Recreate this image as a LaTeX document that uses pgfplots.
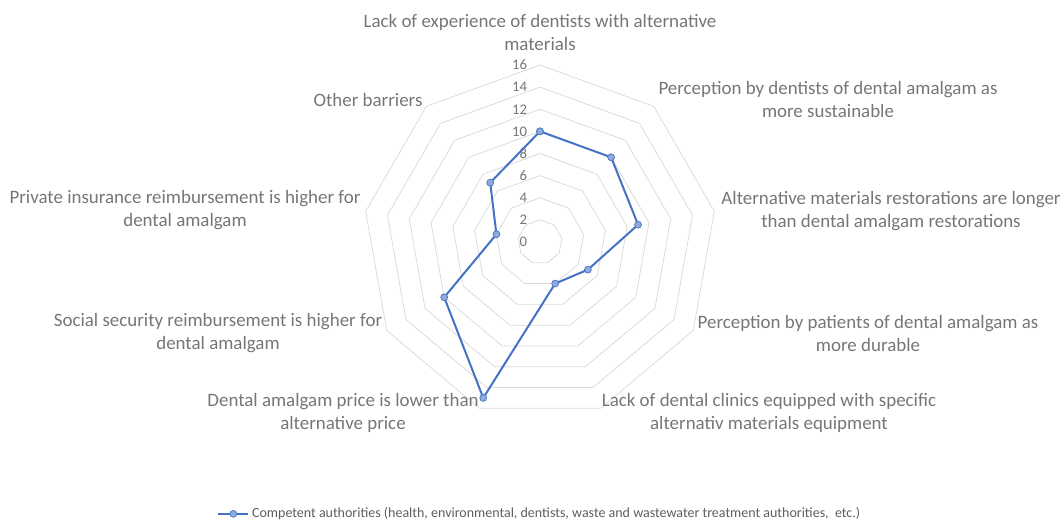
\documentclass[border=0pt]{standalone}
\usepackage{pgfplots}
\pgfplotsset{compat=1.18}
\usepackage{fontspec}
\setmainfont{Carlito}
\definecolor{gridc}{RGB}{217,217,217}
\definecolor{labc}{RGB}{118,118,118}
\definecolor{serc}{RGB}{68,114,196}
\definecolor{serf}{RGB}{143,170,220}
\begin{document}
\begin{tikzpicture}
\path[use as bounding box] (0pt,0pt) rectangle (795.75pt,390.75pt);
\begin{axis}[
  at={(405pt,209.25pt)}, anchor=center,
  scale only axis, width=265.5pt, height=265.5pt,
  xmin=-16, xmax=16, ymin=-16, ymax=16,
  hide axis, clip=false,
  legend style={at={(0.5,-0.268)}, anchor=center, draw=none, fill=none,
    font=\fontsize{10.5}{12}\selectfont, text=labc!80!black},
  legend image code/.code={\draw[mark repeat=2,mark phase=2,#1] plot coordinates {(0cm,0cm) (0.4cm,0cm) (0.8cm,0cm)};},
]
\pgfplotsinvokeforeach{2,4,6,8,10,12,14,16}{
  \addplot[gridc, line width=0.55pt, data cs=polar, forget plot] coordinates {
    (90,#1) (50,#1) (10,#1) (-30,#1) (-70,#1) (-110,#1) (-150,#1) (170,#1) (130,#1) (90,#1)};
  \node[anchor=east, text=labc, font=\fontsize{11}{13}\selectfont, inner sep=0pt] at (axis cs:-1.15,#1) {#1};
}
\node[anchor=east, text=labc, font=\fontsize{11}{13}\selectfont, inner sep=0pt] at (axis cs:-1.15,0) {0};
\addplot[serc, line width=1.5pt, data cs=polar, mark=*, mark size=2.6pt,
  mark options={fill=serf, draw=serc, line width=0.5pt}] coordinates {
  (90,10) (50,10) (10,9) (-30,5) (-70,4) (-110,15) (-150,10) (170,4) (130,7) (90,10)};
\addlegendentry{Competent authorities (health, environmental, dentists, waste and wastewater treatment authorities,\ \ etc.)}
\end{axis}
\begin{scope}[x=0.75pt,y=0.75pt,every node/.style={align=center, text=labc, font=\fontsize{14.2}{17.25}\selectfont, inner sep=0pt}]
\node at (540,488) {Lack of experience of dentists with alternative\\materials};
\node at (828,421) {Perception by dentists of dental amalgam as\\more sustainable};
\node at (891,310) {Alternative materials restorations are longer\\than dental amalgam restorations};
\node at (868,188) {Perception by patients of dental amalgam as\\more durable};
\node at (769,108) {Lack of dental clinics equipped with specific\\alternativ materials equipment};
\node at (343,108) {Dental amalgam price is lower than\\alternative price};
\node at (218,188) {Social security reimbursement is higher for\\dental amalgam};
\node at (185,311) {Private insurance reimbursement is higher for\\dental amalgam};
\node at (368,421) {Other barriers};
\end{scope}
\end{tikzpicture}
\end{document}
